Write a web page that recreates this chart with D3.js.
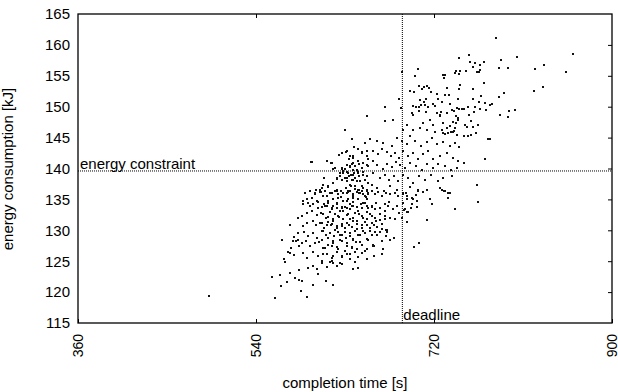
<!DOCTYPE html>
<html>
<head>
<meta charset="utf-8">
<script src="https://cdn.jsdelivr.net/npm/d3@7"></script>
<style>
  body { margin: 0; background: #fff; }
  svg text { font-family: "Liberation Sans", Arial, Helvetica, sans-serif; fill: #000; }
</style>
</head>
<body>
<svg id="chart" width="618" height="392"></svg>
<script>
// axis settings
var xTicks = [360, 540, 720, 900];
var yTicks = [115, 120, 125, 130, 135, 140, 145, 150, 155, 160, 165];
var deadline = 688;
var energyConstraint = 139.6;

// [completion time (s), energy consumption (kJ)]
var lowerTail = [
    [582.1,132.0],[574.3,130.9],[582.7,129.6],[578.4,128.9],[577.7,128.3],[580.1,128.3],[582.7,128.4],[566.6,128.5],
    [583.8,127.4],[575.1,127.1],[572.6,126.5],[574.0,126.4],[578.4,126.0],[568.3,125.4],[569.0,124.9],[583.5,123.5],
    [574.7,123.1],[564.5,122.7],[556.1,122.5],[579.1,122.3],[583.1,122.0],[571.0,121.7],[565.6,121.0],[559.2,119.0],
    [492.4,119.4]
];

var coreLower = [
    [589.6,136.1],[594.6,136.3],[599.7,135.8],[605.4,136.2],[611.5,135.5],[616.5,136.0],[619.9,136.3],[623.3,135.8],
    [625.6,135.4],[631.7,136.1],[635.1,136.3],[638.4,135.6],[641.8,136.2],[644.5,136.0],[646.8,136.3],[648.5,135.8],
    [650.9,135.4],[653.6,136.1],[657.0,136.3],[660.3,135.8],[663.7,136.2],[667.1,135.5],[671.5,136.0],[675.5,135.8],
    [680.5,136.1],[683.9,135.5],
    [587.9,134.7],[592.9,134.4],[598.0,134.2],[603.0,134.6],[608.8,134.2],[613.1,134.7],[618.2,133.9],[622.2,134.4],
    [626.6,133.6],[631.7,134.7],[635.1,134.2],[638.4,134.6],[641.8,133.8],[645.8,134.2],[650.2,134.4],[653.6,133.6],
    [657.0,134.0],[661.3,134.4],[665.4,133.6],[670.4,134.2],[674.8,134.6],[678.9,133.4],[682.9,133.9],
    [586.2,132.3],[591.9,132.8],[596.3,133.1],[601.4,132.4],[605.4,132.8],[610.8,132.0],[614.8,132.9],[619.9,132.6],
    [624.3,132.2],[628.3,133.1],[632.4,132.4],[635.1,131.9],[640.1,132.8],[644.5,132.6],[648.5,132.0],[652.6,132.9],
    [657.0,132.3],[661.3,131.5],[665.4,132.7],[670.4,131.9],[675.5,132.0],[680.5,131.9],[684.3,132.8],
    [587.2,130.7],[591.2,131.2],[597.3,131.5],[600.7,130.8],[604.7,131.2],[608.8,130.4],[613.1,131.3],[615.5,130.9],
    [618.2,131.5],[621.6,130.7],[626.6,131.1],[630.0,130.4],[634.4,130.9],[638.4,131.5],[642.5,130.2],[646.8,130.8],
    [650.2,131.3],[655.3,130.4],[659.3,130.9],[667.1,130.2],[671.5,130.1],[672.8,129.7],
    [588.5,129.7],[592.9,129.1],[598.0,129.5],[602.0,128.8],[606.4,129.9],[610.8,129.2],[614.8,129.6],[618.9,129.0],
    [623.3,129.7],[626.6,129.3],[631.0,128.8],[635.1,129.6],[638.4,128.6],[643.5,129.2],[648.5,129.9],[651.9,128.6],
    [657.0,129.3],[660.3,129.7],[665.4,129.7],[671.5,129.1],[675.5,128.5],[679.5,128.8],
    [586.2,128.0],[590.6,128.2],[594.6,127.4],[599.7,127.9],[604.0,128.1],[608.1,127.2],[613.1,127.7],[618.2,128.0],
    [622.2,127.3],[626.6,128.2],[631.7,127.5],[636.7,127.2],[641.1,128.1],[646.8,127.7],[651.9,127.0],[659.3,127.5],
    [587.2,126.4],[591.2,125.5],[598.0,126.5],[603.0,125.8],[606.4,125.0],[611.5,126.1],[616.5,125.5],[621.6,126.5],
    [626.6,125.8],[631.7,126.1],[635.1,125.3],[640.1,126.5],[646.8,126.4],[659.3,125.9],[667.1,126.1],
    [592.9,123.9],[597.3,124.3],[602.0,123.7],[606.4,124.7],[612.1,124.1],[616.5,125.0],[618.2,124.7],[622.2,124.2],
    [626.6,124.5],[638.4,123.8],[643.5,123.9],
    [586.2,121.8],[597.3,121.2],[603.0,122.9],[610.8,121.8],[618.2,121.1],[591.9,119.2],[585.5,120.2]
];

// second, closer reading of the densest part of the cloud
var coreDense = [
    [626.6,142.5],[631.7,142.8],[635.1,142.0],[638.4,142.1],[646.8,142.6],[651.9,142.8],[596.3,141.0],[611.4,141.2],
    [616.5,140.9],[619.9,140.1],[626.6,140.1],[631.7,140.6],[635.1,140.4],[638.4,140.9],[641.8,139.8],[646.8,140.1],
    [651.9,140.6],[653.6,141.5],[624.9,139.3],[628.3,139.6],[633.3,139.3],[638.4,139.0],[643.5,139.3],[648.5,139.4],
    [651.9,138.8],[621.5,138.5],[626.6,138.2],[631.7,138.5],[636.7,138.1],[640.1,138.5],[645.1,138.0],[650.2,138.2],
    [653.6,137.7],[608.1,137.4],[613.1,137.1],[618.2,137.7],[635.0,137.4],[640.1,137.1],[643.5,136.6],[648.5,136.9],
    [651.9,136.3],[604.7,136.6],[609.7,136.3],[599.6,136.1],[614.8,136.1],[621.5,136.3],[628.3,136.1],[633.3,136.3],
    [638.4,135.8],[645.1,136.1],[650.2,135.5],[653.6,135.8],[591.2,135.0],[596.3,135.3],[601.3,134.7],[608.1,135.5],
    [613.1,134.4],[618.2,135.0],[623.2,135.3],[628.3,134.7],[633.3,135.0],[638.4,135.3],[643.5,135.0],[648.5,134.4],
    [651.9,135.0],[587.8,134.2],[594.6,133.9],[603.0,133.6],[609.7,133.9],[616.5,133.6],[621.5,134.2],[626.6,133.8],
    [631.7,133.6],[636.7,134.0],[641.8,133.8],[646.8,133.6],[651.9,133.9],
    [606.4,133.7],[611.4,133.9],[616.5,133.4],[621.6,133.6],[624.9,133.1],[630.0,133.7],[635.0,133.4],[638.4,133.9],
    [643.5,133.2],[646.8,133.6],[651.9,133.0],[657.0,133.7],[660.3,133.4],[665.4,133.6],[670.4,133.1],[673.8,133.9],
    [608.1,132.6],[613.1,132.1],[618.2,131.8],[623.2,132.3],[628.3,131.9],[633.4,132.6],[638.4,132.0],[641.8,131.5],
    [646.8,132.3],[651.9,131.8],[655.3,132.6],[660.3,132.0],[665.4,131.6],[670.4,132.3],[606.4,131.2],[611.4,130.8],
    [616.5,131.0],[621.6,130.4],[626.6,130.7],[631.7,131.2],[636.7,130.5],[641.8,131.0],[646.8,130.3],[651.9,130.8],
    [657.0,131.2],[662.0,130.5],[667.1,131.0],[608.1,129.9],[614.8,129.6],[619.9,130.0],[624.9,129.3],[630.0,129.8],
    [635.0,129.1],[640.1,129.9],[645.2,129.2],[650.2,129.6],[655.3,129.9],[662.0,129.3],[672.1,130.1],[606.4,128.5],
    [613.1,128.8],[618.2,128.2],[624.9,128.5],[631.7,128.0],[638.4,128.4],[645.2,128.1],[653.6,128.5],[658.6,127.7],
    [667.1,128.2],[609.8,127.2],[616.5,127.4],[623.2,126.9],[630.0,126.6],[636.7,127.3],[641.8,126.9],[650.2,126.6],
    [658.6,127.4],[668.7,126.9],[608.1,126.1],[618.2,125.8],[626.6,125.6],[635.0,126.1],[643.5,125.7],[651.9,125.3],
    [667.1,126.1],[614.8,124.9],[624.9,124.7],[640.1,124.9]
];

var coreUpper = [
    [630.0,146.2],[637.0,144.7],[630.6,142.7],[623.9,142.2],[639.4,143.5],[643.4,143.2],[638.4,141.7],[634.3,141.5],
    [595.6,141.0],[611.4,141.2],[615.8,140.9],[642.8,141.2],[636.7,140.8],[635.0,140.3],[640.1,140.4],[643.8,140.7],
    [617.5,140.0],[626.6,140.0],[630.3,140.0],[638.4,139.8],[641.8,139.7],[631.6,139.4],[628.3,139.3],[635.7,139.0],
    [639.4,139.2],[643.4,139.4],[624.9,138.8],[630.0,138.5],[634.3,138.8],[640.1,138.5],[644.1,138.8],[609.1,138.4],
    [622.2,138.3],[626.6,138.2],[632.3,137.9],[637.7,138.1],[641.8,137.9],[600.3,136.6],[606.4,136.8],[613.1,137.0],
    [621.5,136.6],[625.6,136.3],[631.0,136.9],[635.7,137.1],[640.1,136.7],[644.5,136.5],[616.5,136.1],[604.7,136.2],
    [633.3,136.2],
    [652.5,148.5],[670.4,147.7],[678.8,147.9],[697.4,149.0],[699.0,148.6],[705.1,149.3],[711.9,149.1],[722.6,148.9],
    [726.0,148.6],[733.4,149.0],[740.5,149.3],[744.5,148.2],[715.9,147.9],[709.1,147.4],[719.3,147.1],[729.4,147.4],
    [736.1,146.9],[741.2,146.6],[692.3,147.1],[688.9,146.3],[699.0,146.3],[705.8,146.6],[712.5,146.2],[721.0,145.9],
    [727.7,146.2],[734.4,145.7],[742.9,145.4],
    [650.2,144.2],[655.2,144.7],[662.0,144.4],[668.7,144.2],[677.1,143.6],[682.2,145.0],[687.2,144.4],[692.3,143.9],
    [695.7,145.2],[700.7,144.4],[706.5,143.6],[712.5,144.3],[717.6,145.0],[723.3,143.9],[729.4,144.3],[736.1,143.6],
    [741.2,144.2],[745.6,143.4],
    [646.8,142.5],[651.8,142.0],[658.6,142.8],[663.6,142.3],[667.0,143.1],[672.1,142.6],[676.1,142.0],[680.5,142.5],
    [684.9,141.7],[688.9,142.8],[694.0,142.0],[699.0,142.5],[704.1,141.6],[709.1,142.3],[714.2,142.8],[719.3,141.5],
    [726.0,142.0],[732.7,142.5],[739.5,141.7],[744.5,141.2],
    [648.5,140.9],[653.5,140.4],[657.9,141.2],[662.6,140.6],[668.0,139.9],[672.1,140.8],[677.1,140.3],[681.5,141.0],
    [685.6,140.5],[690.6,140.1],[695.7,140.9],[701.7,140.4],[707.5,139.8],[712.5,140.7],[718.6,140.1],[724.3,140.7],
    [731.1,140.4],[736.8,139.7],[742.9,140.1],
    [647.8,139.0],[652.5,138.8],[658.6,139.3],[665.3,138.5],[670.4,139.0],[674.8,138.2],[679.5,138.8],[683.9,137.9],
    [688.9,139.0],[694.0,138.5],[699.0,137.7],[705.1,138.8],[710.8,138.2],[716.6,138.9],[724.3,137.9],[729.4,138.5],
    [737.8,138.8],
    [646.8,137.1],[651.8,136.6],[656.9,137.4],[662.0,136.9],[669.4,136.3],[675.4,137.2],[682.2,136.6],[688.9,136.1],
    [695.7,137.0],[704.1,136.3],[712.5,136.6],[726.0,136.9],[731.1,136.3],[736.1,136.1]
];

var upperTail = [
    [782.3,161.1],[860.5,158.6],[804.2,158.0],[745.6,157.9],[755.0,158.3],[787.4,157.5],[756.3,157.3],[761.4,157.0],
    [766.5,156.8],[770.5,157.2],[759.0,156.4],[766.5,156.0],[763.8,155.6],[765.4,155.6],[785.7,156.3],[794.8,156.2],
    [831.2,156.8],[822.4,156.1],[853.8,155.6],[728.7,155.2],[731.1,155.2],[730.0,154.7],[740.8,155.5],[742.2,155.7],
    [745.6,155.3],[746.2,155.7],[752.3,155.7],[770.5,153.8],[745.9,153.5],[745.2,152.9],[759.7,152.9],[732.7,153.1],
    [731.4,151.9],[735.1,151.9],[767.8,151.8],[830.2,153.2],[821.4,152.6],[790.7,152.2],[785.7,151.5],[744.5,151.2],
    [759.0,151.2],[728.0,150.7],[735.8,150.5],[765.8,150.8],[771.2,150.6],[776.6,150.2],[778.9,150.5],[743.5,149.8],
    [745.6,149.7],[747.9,149.6],[749.9,149.6],[754.0,149.9],[761.1,149.9],[766.5,149.7],[772.2,149.4],[738.5,149.4],
    [727.0,149.2],[726.0,148.5],[760.0,149.1],[755.7,148.7],[801.8,149.5],[795.4,149.3],[787.0,148.6],[794.8,148.4],
    [742.5,148.5],[743.9,147.9],[739.1,147.5],[741.8,147.3],[757.0,147.7],[750.9,147.1],[753.6,146.7],[759.0,146.7],
    [764.8,147.0],[732.7,146.5],[737.1,145.9],[738.8,145.9],[740.2,146.0],[762.1,145.7],[729.4,145.8],[731.1,145.6],
    [703.8,156.1],[700.8,155.0],[687.9,155.6],[712.6,153.4],[709.8,153.2],[704.8,153.4],[708.1,152.8],[714.6,153.1],
    [695.7,152.5],[699.4,152.4],[717.2,152.3],[722.7,152.0],[706.1,151.1],[711.6,151.2],[709.8,150.8],[723.7,151.2],
    [719.2,150.5],[684.6,151.2],[686.3,149.8],[670.4,150.0],[699.0,150.1],[701.8,149.9],[704.5,150.0],[707.1,150.3],
    [710.6,150.2],[713.9,149.9],[721.0,150.1]
];

var rightSpread = [
    [750.0,145.2],[754.7,145.2],[757.1,145.5],[774.6,144.7],[776.9,144.7],[750.3,140.9],[771.5,141.6],[763.1,137.4],
    [688.3,135.8],[691.7,136.0],[693.0,135.6],[692.3,135.1],[689.0,134.4],[697.4,135.3],[699.1,135.0],[701.4,135.7],
    [704.1,136.5],[709.2,136.2],[715.9,135.1],[717.6,134.2],[702.5,134.7],[697.4,134.2],[696.7,133.6],[703.1,133.8],
    [689.6,133.3],[692.3,132.9],[693.7,132.9],[690.7,133.5],[687.3,132.0],[692.3,131.4],[712.6,131.6],[704.8,128.0],
    [699.8,127.3],[727.7,136.5],[730.4,136.3],[734.5,136.0],[733.8,135.3],[741.2,133.5],[764.1,134.6]
];

var points = [].concat(lowerTail, coreLower, coreDense, coreUpper, upperTail, rightSpread);

var svg = d3.select("#chart");
var plotLeft = 78, plotRight = 612, plotTop = 14, plotBottom = 323;

var x = d3.scaleLinear().domain([360, 900]).range([plotLeft, plotRight]);
var y = d3.scaleLinear().domain([115, 165]).range([plotBottom, plotTop]);

// points: small dark squares snapped to the pixel grid
svg.append("g").attr("shape-rendering", "crispEdges")
    .selectAll("rect").data(points).enter().append("rect")
    .attr("x", function(d) { return Math.round(x(d[0])) - 1; })
    .attr("y", function(d) { return Math.round(y(d[1])) - 1; })
    .attr("width", 2)
    .attr("height", 2)
    .attr("fill", "#111");

// deadline / energy constraint
svg.append("line")
    .attr("x1", x(deadline)).attr("x2", x(deadline))
    .attr("y1", plotTop).attr("y2", plotBottom)
    .attr("stroke", "#000").attr("stroke-width", 1).attr("stroke-dasharray", "1,1");
svg.append("line")
    .attr("x1", plotLeft).attr("x2", plotRight)
    .attr("y1", y(energyConstraint)).attr("y2", y(energyConstraint))
    .attr("stroke", "#000").attr("stroke-width", 1).attr("stroke-dasharray", "1,1");

svg.append("text").attr("x", plotLeft + 2).attr("y", y(energyConstraint) - 2)
    .attr("font-size", 15).text("energy constraint");
svg.append("text").attr("x", x(deadline) + 1).attr("y", plotBottom - 3)
    .attr("font-size", 15).text("deadline");

// axes: labels from d3 axes, inward ticks drawn on the mirror sides
var yAxis = svg.append("g").attr("transform", "translate(" + plotLeft + ",0)")
    .call(d3.axisLeft(y).tickValues(yTicks).tickSize(0).tickPadding(8));
yAxis.select(".domain").remove();
yAxis.selectAll("text").attr("font-size", 15).style("font-family", null);

var yRight = svg.append("g").attr("transform", "translate(" + plotRight + ",0)")
    .call(d3.axisLeft(y).tickValues(yTicks.slice(1, -1)).tickSize(4).tickFormat(""));
yRight.select(".domain").remove();

var xAxis = svg.append("g").attr("transform", "translate(0," + plotBottom + ")")
    .call(d3.axisTop(x).tickValues(xTicks).tickSize(4));
xAxis.select(".domain").remove();
xAxis.selectAll("text")
    .attr("font-size", 14).style("font-family", null)
    .attr("text-anchor", "end")
    .attr("transform", "rotate(-90)")
    .attr("x", -11).attr("y", 0).attr("dy", "0.35em");

var xTop = svg.append("g").attr("transform", "translate(0," + plotTop + ")")
    .call(d3.axisBottom(x).tickValues(xTicks.slice(1, -1)).tickSize(4).tickFormat(""));
xTop.select(".domain").remove();

svg.selectAll(".tick line").attr("stroke", "#000");

// frame
svg.append("rect").attr("x", plotLeft).attr("y", plotTop)
    .attr("width", plotRight - plotLeft).attr("height", plotBottom - plotTop)
    .attr("fill", "none").attr("stroke", "#000").attr("stroke-width", 1.3);

// titles
svg.append("text").attr("x", (plotLeft + plotRight) / 2).attr("y", 388)
    .attr("text-anchor", "middle").attr("font-size", 15).text("completion time [s]");
svg.append("text").attr("transform", "translate(13,169) rotate(-90)")
    .attr("text-anchor", "middle").attr("font-size", 15).text("energy consumption [kJ]");
</script>
</body>
</html>
